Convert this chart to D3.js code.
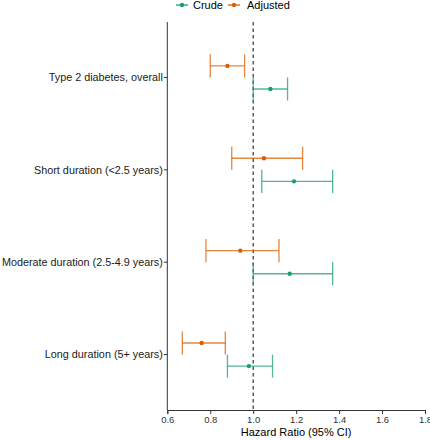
<!DOCTYPE html>
<html><head><meta charset="utf-8">
<script src="https://cdn.jsdelivr.net/npm/d3@7"></script>
<style>body{margin:0;background:#fff;}svg{display:block;font-family:"Liberation Sans",Arial,sans-serif;}</style>
</head><body><svg id="c" width="430" height="440"></svg>
<script>
const categories = ["Type 2 diabetes, overall","Short duration (<2.5 years)","Moderate duration (2.5-4.9 years)","Long duration (5+ years)"];
const seriesNames = ["Crude","Adjusted"];
const crudeHR = [1.08, 1.19, 1.17, 0.98];
const crudeLow = [1.00, 1.04, 1.00, 0.88];
const crudeHigh = [1.16, 1.37, 1.37, 1.09];
const adjHR = [0.88, 1.05, 0.94, 0.76];
const adjLow = [0.80, 0.90, 0.78, 0.67];
const adjHigh = [0.96, 1.23, 1.12, 0.87];
const xTicks = [0.6, 0.8, 1.0, 1.2, 1.4, 1.6, 1.8];
const colors = {Crude:"#1b9e77", Adjusted:"#d95f02"};

const svg = d3.select("#c");
const L = 167.3, R = 425, T = 22, B = 410;
const x = d3.scaleLinear().domain([0.6,1.8]).range([L,R]);
// discrete axis with 0.6 expansion on each side
const yIdx = d3.scaleLinear().domain([0.4, 4.6]).range([B, T]);
const yc = (i) => yIdx(categories.length - i);
const unit = Math.abs(yIdx(1)-yIdx(0));
const dodge = 0.125*unit;
const capH = 0.125*unit;

const data = [];
categories.forEach((c,i)=>{
  data.push({cat:i, s:"Crude", hr:crudeHR[i], lo:crudeLow[i], hi:crudeHigh[i], off: dodge});
  data.push({cat:i, s:"Adjusted", hr:adjHR[i], lo:adjLow[i], hi:adjHigh[i], off: -dodge});
});

// reference line
svg.append("line").attr("x1",x(1)).attr("x2",x(1)).attr("y1",T).attr("y2",B)
  .attr("stroke","#333").attr("stroke-width",1.2).attr("stroke-dasharray","3.5,3");

const g = svg.append("g");
data.forEach(d=>{
  const cy = yc(d.cat)+d.off;
  const col = colors[d.s];
  const eg = g.append("g").attr("stroke",col).attr("stroke-opacity",0.75).attr("stroke-width",1.3);
  eg.append("line").attr("x1",x(d.lo)).attr("x2",x(d.hi)).attr("y1",cy).attr("y2",cy);
  eg.append("line").attr("x1",x(d.lo)).attr("x2",x(d.lo)).attr("y1",cy-capH).attr("y2",cy+capH);
  eg.append("line").attr("x1",x(d.hi)).attr("x2",x(d.hi)).attr("y1",cy-capH).attr("y2",cy+capH);
  g.append("circle").attr("cx",x(d.hr)).attr("cy",cy).attr("r",2.2).attr("fill",col);
});

// x axis
const xa = svg.append("g").attr("transform",`translate(0,${B})`)
  .call(d3.axisBottom(x).tickValues(xTicks).tickFormat(d3.format(".1f")).tickSizeOuter(0).tickSize(4));
xa.select(".domain").attr("stroke","#333");
xa.selectAll(".tick line").attr("stroke","#333");
xa.selectAll("text").attr("fill","#333").attr("font-size",9.5).attr("dy","0.71em").attr("y",6);

// y axis
const ya = svg.append("g").attr("transform",`translate(${L},0)`);
ya.append("line").attr("x1",0).attr("x2",0).attr("y1",T).attr("y2",B).attr("stroke","#333");
categories.forEach((c,i)=>{
  ya.append("line").attr("x1",-3.5).attr("x2",0).attr("y1",yc(i)).attr("y2",yc(i)).attr("stroke","#333");
  ya.append("text").attr("x",-4.5).attr("y",yc(i)).attr("dy","0.35em").attr("text-anchor","end")
    .attr("font-size",10.8).attr("fill","#1a1a1a").text(c);
});

svg.append("text").attr("x",(L+R)/2).attr("y",436).attr("text-anchor","middle")
  .attr("font-size",11).attr("fill","#000").text("Hazard Ratio (95% CI)");

// legend
const leg = svg.append("g");
const legItems = [{s:"Crude", x0:176, tx:193},{s:"Adjusted", x0:228, tx:247}];
legItems.forEach(it=>{
  const col = colors[it.s];
  leg.append("line").attr("x1",it.x0).attr("x2",it.x0+12).attr("y1",5).attr("y2",5).attr("stroke",col).attr("stroke-width",1.3);
  leg.append("circle").attr("cx",it.x0+6).attr("cy",5).attr("r",2.2).attr("fill",col);
  leg.append("text").attr("x",it.tx).attr("y",5).attr("dy","0.35em").attr("font-size",11).attr("fill","#000").text(it.s);
});
</script></body></html>
